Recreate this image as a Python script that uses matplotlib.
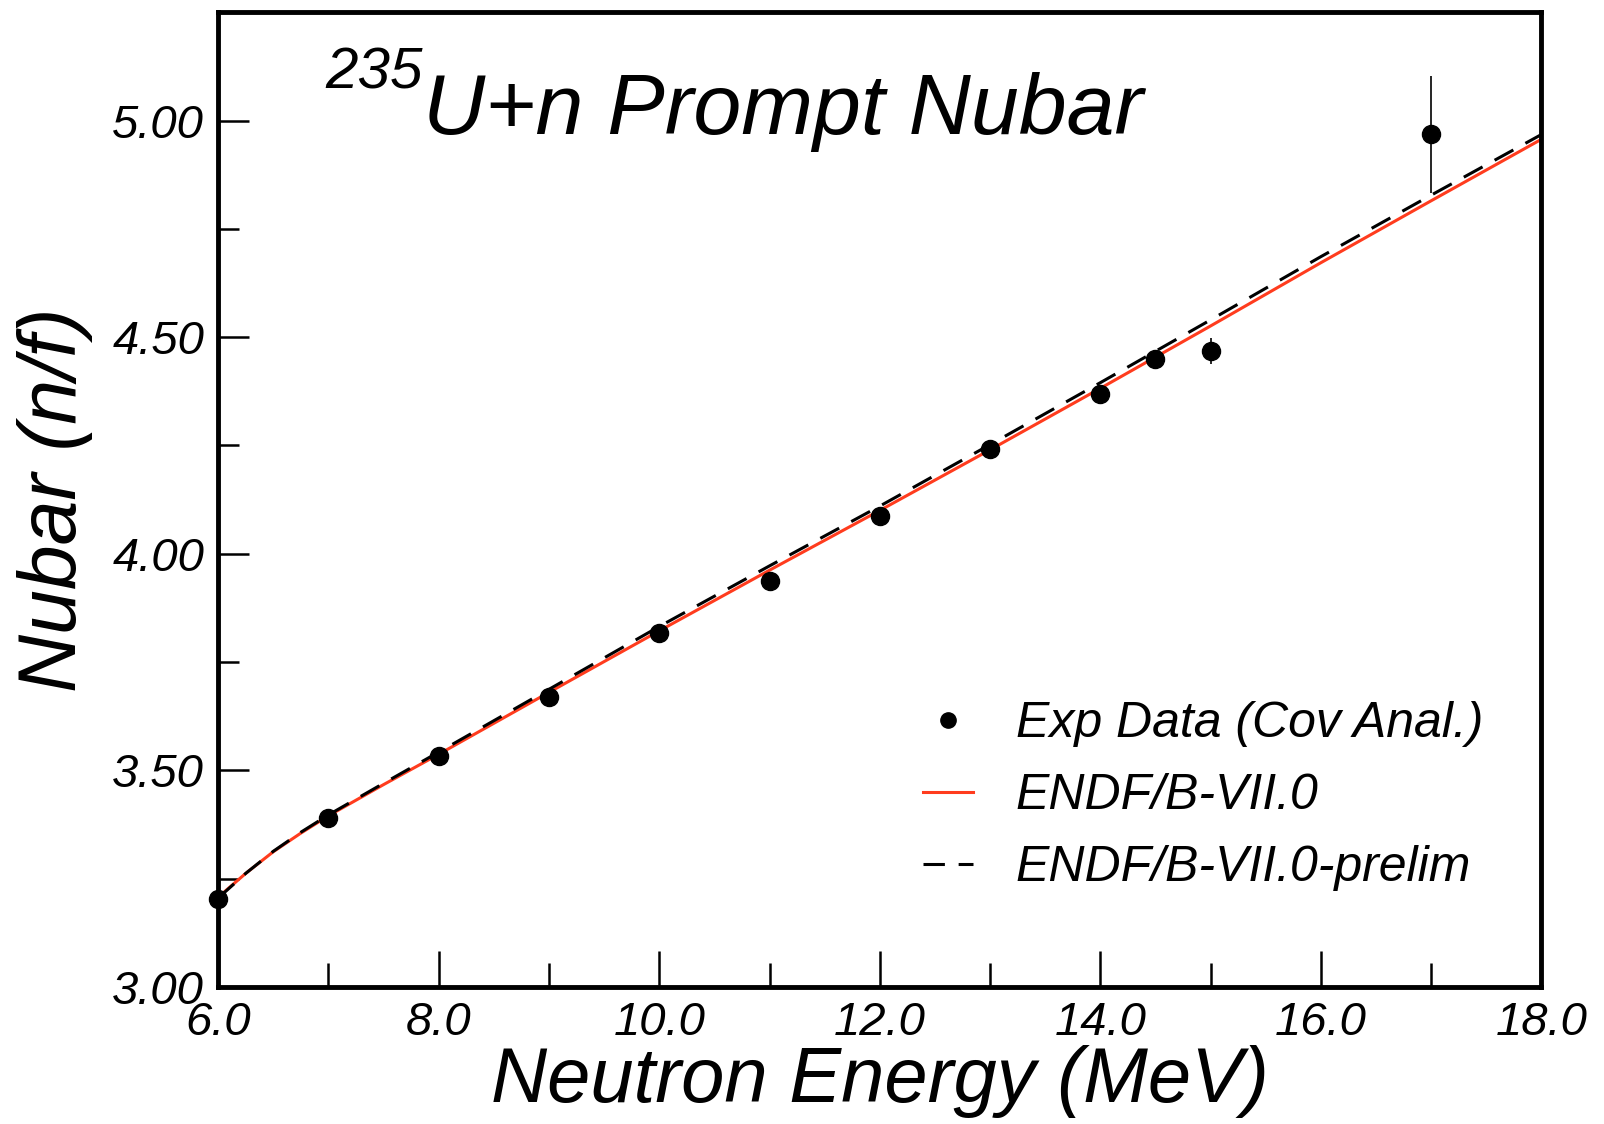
import matplotlib
matplotlib.use('Agg')
import matplotlib.pyplot as plt
from matplotlib.lines import Line2D
from matplotlib.ticker import MultipleLocator, FormatStrFormatter

plt.rcParams['font.family'] = ['Liberation Sans', 'DejaVu Sans']
plt.rcParams['font.style'] = 'italic'

# experimental points (Cov Anal.)
exp_e = [6.0, 7.0, 8.0, 9.0, 10.0, 11.0, 12.0, 13.0, 14.0, 14.5, 15.0, 17.0]
exp_nu = [3.203, 3.389, 3.533, 3.670, 3.818, 3.936, 4.087, 4.241, 4.368, 4.450, 4.467, 4.969]
exp_err = [0.01, 0.01, 0.01, 0.01, 0.01, 0.01, 0.01, 0.01, 0.01, 0.01, 0.03, 0.135]

# ENDF/B-VII.0 evaluation
endf_e = [6.0, 6.25, 6.5, 6.75, 7.0, 7.5, 8.0, 9.0, 10.0, 11.0, 12.0, 13.0, 14.0, 15.0, 16.0, 17.0, 18.0]
endf_nu = [3.207, 3.262, 3.312, 3.355, 3.395, 3.467, 3.537, 3.680, 3.822, 3.962, 4.100,
           4.240, 4.382, 4.526, 4.672, 4.815, 4.957]

# ENDF/B-VII.0-prelim
prelim_e = [6.0, 6.25, 6.5, 6.75, 7.0, 7.5, 8.0, 9.0, 10.0, 11.0, 12.0, 13.0, 14.0, 15.0, 16.0, 17.0, 18.0]
prelim_nu = [3.205, 3.262, 3.313, 3.357, 3.397, 3.470, 3.542, 3.687, 3.832, 3.972, 4.110,
             4.252, 4.395, 4.540, 4.686, 4.828, 4.968]

fig = plt.figure(figsize=(16.04, 11.24), dpi=100)
ax = fig.add_axes([0.136, 0.122, 0.825, 0.867])

ax.plot(endf_e, endf_nu, color='#ff3c1e', lw=2.2, zorder=2)
ax.plot(prelim_e, prelim_nu, color='black', lw=2.2, ls=(0, (7, 4.5)), zorder=3)
ax.errorbar(exp_e, exp_nu, yerr=exp_err, fmt='o', color='black', ms=13,
            elinewidth=1.2, capsize=0, zorder=4, clip_on=False)

ax.set_xlim(6.0, 18.0)
ax.set_ylim(3.0, 5.25)

ax.xaxis.set_major_locator(MultipleLocator(2.0))
ax.xaxis.set_minor_locator(MultipleLocator(1.0))
ax.yaxis.set_major_locator(MultipleLocator(0.5))
ax.yaxis.set_minor_locator(MultipleLocator(0.25))
ax.xaxis.set_major_formatter(FormatStrFormatter('%.1f'))
ax.yaxis.set_major_formatter(FormatStrFormatter('%.2f'))

ax.tick_params(axis='x', which='major', direction='in', length=26, width=1.8,
               labelsize=34, pad=10, top=False)
ax.tick_params(axis='x', which='minor', direction='in', length=17, width=1.8, top=False)
ax.tick_params(axis='y', which='major', direction='in', length=22, width=1.8,
               labelsize=34, pad=10, right=False)
ax.tick_params(axis='y', which='minor', direction='in', length=15, width=1.8, right=False)

for sp in ax.spines.values():
    sp.set_linewidth(3.5)

ax.set_xlabel('Neutron Energy (MeV)', fontsize=56, labelpad=0)
ax.set_ylabel('Nubar (n/f)', fontsize=58, labelpad=14)

# title with superscript mass number
sup = ax.text(0.081, 0.965, '235', transform=ax.transAxes, fontsize=42,
              ha='left', va='top')
ax.annotate('U+n Prompt Nubar', xy=(1.0, 0.52), xycoords=sup, fontsize=62,
            ha='left', va='top')

# legend
handles = [
    Line2D([], [], ls='none', marker='o', color='black', ms=11),
    Line2D([], [], color='#ff3c1e', lw=2.2),
    Line2D([], [], color='black', lw=2.2, ls=(0, (7, 4.5))),
]
labels = ['Exp Data (Cov Anal.)', 'ENDF/B-VII.0', 'ENDF/B-VII.0-prelim']
ax.legend(handles, labels, loc='lower right', bbox_to_anchor=(0.99, 0.052),
          fontsize=36, frameon=False, handlelength=1.0, handletextpad=0.85,
          labelspacing=0.52)

fig.savefig('out.png', dpi=100)
